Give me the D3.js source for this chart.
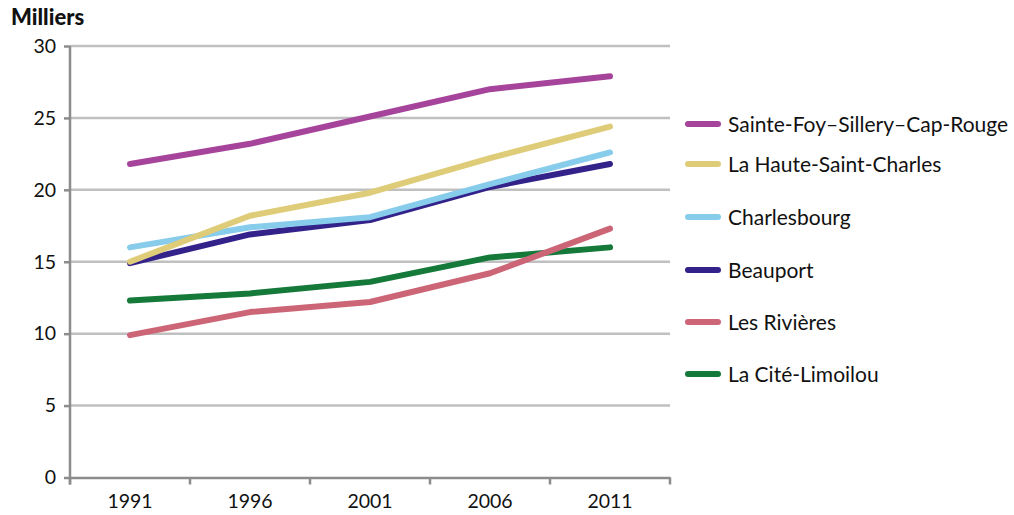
<!DOCTYPE html>
<html>
<head>
<meta charset="utf-8">
<script src="https://cdn.jsdelivr.net/npm/d3@7"></script>
<style>
  body { margin: 0; background: #fff; }
  text { font-family: Lato, "Open Sans", sans-serif; fill: #111; }
</style>
</head>
<body>
<div class="canvas"></div>
<script>
const years = ["1991", "1996", "2001", "2006", "2011"];
const yTicks = [0, 5, 10, 15, 20, 25, 30];

const sainteFoy = [21.8, 23.2, 25.1, 27.0, 27.9];
const hauteSaintCharles = [15.0, 18.2, 19.8, 22.2, 24.4];
const charlesbourg = [16.0, 17.4, 18.1, 20.4, 22.6];
const beauport = [14.9, 16.9, 17.9, 20.2, 21.8];
const lesRivieres = [9.9, 11.5, 12.2, 14.2, 17.3];
const citeLimoilou = [12.3, 12.8, 13.6, 15.3, 16.0];

// legend order (top to bottom)
const series = [
  { name: "Sainte-Foy–Sillery–Cap-Rouge", values: sainteFoy, color: "#a6449b" },
  { name: "La Haute-Saint-Charles", values: hauteSaintCharles, color: "#dfcc79" },
  { name: "Charlesbourg", values: charlesbourg, color: "#88cceb" },
  { name: "Beauport", values: beauport, color: "#33228a" },
  { name: "Les Rivières", values: lesRivieres, color: "#cc6677" },
  { name: "La Cité-Limoilou", values: citeLimoilou, color: "#15793a" }
];

const width = 1014, height = 515;
const margin = { top: 46, left: 70, right: 344, bottom: 37.5 };
const graphWidth = width - margin.left - margin.right;
const graphHeight = height - margin.top - margin.bottom;

const svg = d3.select(".canvas").append("svg")
  .attr("width", width)
  .attr("height", height);

const graph = svg.append("g")
  .attr("transform", `translate(${margin.left}, ${margin.top})`);

// scales
const x = d3.scaleBand().domain(years).range([0, graphWidth]);
const y = d3.scaleLinear().domain([0, 30]).range([graphHeight, 0]);

// gridlines
graph.append("g")
  .selectAll("line")
  .data(yTicks.filter(d => d > 0))
  .enter().append("line")
  .attr("x1", 0).attr("x2", graphWidth)
  .attr("y1", d => y(d)).attr("y2", d => y(d))
  .attr("stroke", "#c0c0c0")
  .attr("stroke-width", 2.5);

// axes
const yAxis = d3.axisLeft(y).tickValues(yTicks).tickSize(6).tickPadding(8);
const yAxisGroup = graph.append("g").call(yAxis);

const xAxis = d3.axisBottom(x).tickSize(0).tickPadding(17);
const xAxisGroup = graph.append("g")
  .attr("transform", `translate(0, ${graphHeight})`)
  .call(xAxis);

// x tick marks on category boundaries
xAxisGroup.append("g")
  .selectAll("line")
  .data(years.map(d => x(d)).concat([graphWidth]))
  .enter().append("line")
  .attr("x1", d => d).attr("x2", d => d)
  .attr("y1", 0).attr("y2", 7)
  .attr("stroke", "#8c8c8c")
  .attr("stroke-width", 2.5);

[yAxisGroup, xAxisGroup].forEach(g => {
  g.selectAll(".domain").attr("stroke", "#8c8c8c").attr("stroke-width", 2.5);
  g.selectAll(".tick line").attr("stroke", "#8c8c8c").attr("stroke-width", 2.5);
  g.selectAll("text")
    .attr("font-family", "Lato, sans-serif")
    .attr("font-size", 19.5)
    .attr("fill", "#111");
});
yAxisGroup.selectAll(".domain").attr("d", `M0,${graphHeight + 7}V0`);

// lines
const line = d3.line()
  .x((d, i) => x(years[i]) + x.bandwidth() / 2)
  .y(d => y(d));

graph.append("g")
  .selectAll("path")
  .data(series.slice().reverse())
  .enter().append("path")
  .attr("d", d => line(d.values))
  .attr("fill", "none")
  .attr("stroke", d => d.color)
  .attr("stroke-width", 6)
  .attr("stroke-linecap", "round")
  .attr("stroke-linejoin", "round");

// title
svg.append("text")
  .attr("x", 11).attr("y", 25)
  .attr("font-size", 22)
  .attr("font-weight", 900)
  .text("Milliers");

// legend
const legendY = [124, 164, 217, 270, 322, 374];
const legend = svg.append("g")
  .selectAll("g")
  .data(series)
  .enter().append("g")
  .attr("transform", (d, i) => `translate(688, ${legendY[i]})`);

legend.append("line")
  .attr("x1", 0).attr("x2", 30)
  .attr("stroke", d => d.color)
  .attr("stroke-width", 6)
  .attr("stroke-linecap", "round");

legend.append("text")
  .attr("x", 40).attr("y", 7.5)
  .attr("font-size", 21)
  .text(d => d.name);
</script>
</body>
</html>
